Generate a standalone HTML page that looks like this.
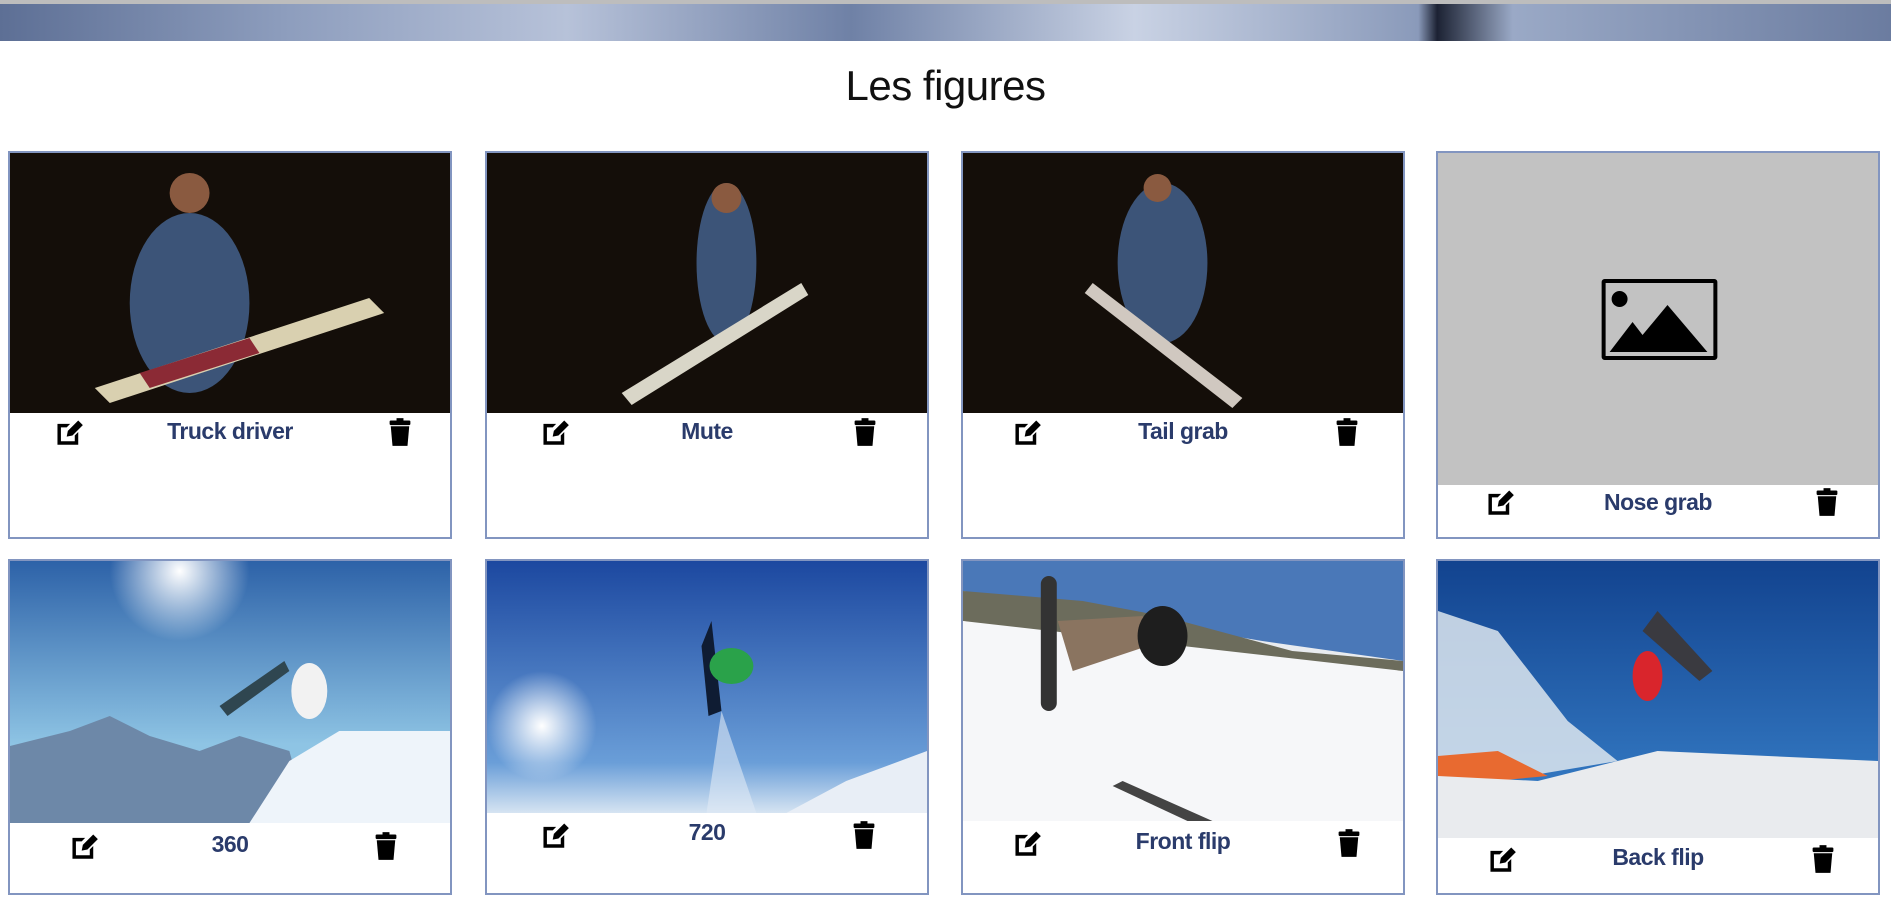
<!DOCTYPE html>
<html><head><meta charset="utf-8">
<style>
html,body{margin:0;padding:0;background:#fff;width:1891px;height:899px;overflow:hidden;position:relative;font-family:"Liberation Sans","DejaVu Sans",sans-serif}
.banner{position:absolute;left:0;top:0;width:1891px;height:41px;background:linear-gradient(90deg,#5d6f95 0%,#8d9dbd 15%,#b7c2d9 30%,#6f81a6 45%,#c9d2e4 60%,#8a9aba 75%,#1c2233 76%,#9aa9c6 80%,#6b7ca0 100%)}
.banner:before{content:"";position:absolute;left:0;top:0;right:0;height:4px;background:#bdbdbd}
.title{position:absolute;left:0;width:1891px;top:62px;text-align:center;font-size:42px;color:#111;letter-spacing:-0.5px}
.card{position:absolute;width:444px;border:2px solid #8295c0;box-sizing:border-box;background:#fff;overflow:hidden}
.img{position:absolute;left:0;top:0;width:100%}
.lbl{position:absolute;left:0;width:100%;text-align:center;font-size:23px;font-weight:bold;color:#2a3b6b;letter-spacing:-0.5px}
.ic{position:absolute;width:30px;height:30px}
</style></head><body>
<div class="banner"></div>
<div class="title">Les figures</div>

<svg width="0" height="0" style="position:absolute">
<defs>
<symbol id="edit" viewBox="0 0 26 26"><path d="M3 6h11l-3 3H6v12h12v-5l3-3v11H3z" fill="#000"/><path d="M11 17l1-5 9-9 4 4-9 9z" fill="#000"/></symbol>
<symbol id="trash" viewBox="0 0 26 26"><rect x="4" y="3" width="18" height="4" rx="1" fill="#000"/><rect x="10" y="1" width="6" height="3" fill="#000"/><path d="M5 8h16l-1.5 17h-13z" fill="#000"/></symbol>
</defs></svg>

<!-- Row 1 -->
<div class="card" style="left:8px;top:151px;height:388px">
 <svg class="img" height="260" viewBox="0 0 441 260" preserveAspectRatio="none"><rect width="441" height="260" fill="#140e09"/><ellipse cx="180" cy="150" rx="60" ry="90" fill="#3c5478"/><circle cx="180" cy="40" r="20" fill="#8a5a40"/><path d="M85 235L360 145L375 160L100 250Z" fill="#d9d0b0"/><path d="M130 220L240 185L250 200L140 235Z" fill="#8b2a35"/></svg>
 <svg class="ic" style="left:44px;top:264px"><use href="#edit"/></svg>
 <div class="lbl" style="top:265px">Truck driver</div>
 <svg class="ic" style="left:375px;top:264px"><use href="#trash"/></svg>
</div>
<div class="card" style="left:485px;top:151px;height:388px">
 <svg class="img" height="260" viewBox="0 0 441 260" preserveAspectRatio="none"><rect width="441" height="260" fill="#140e09"/><ellipse cx="240" cy="110" rx="30" ry="80" fill="#3c5478"/><circle cx="240" cy="45" r="15" fill="#8a5a40"/><path d="M135 240L315 130L322 142L145 252Z" fill="#d9d6c8"/></svg>
 <svg class="ic" style="left:53px;top:264px"><use href="#edit"/></svg>
 <div class="lbl" style="top:265px">Mute</div>
 <svg class="ic" style="left:363px;top:264px"><use href="#trash"/></svg>
</div>
<div class="card" style="left:961px;top:151px;height:388px">
 <svg class="img" height="260" viewBox="0 0 441 260" preserveAspectRatio="none"><rect width="441" height="260" fill="#140e09"/><ellipse cx="200" cy="110" rx="45" ry="80" fill="#3c5478"/><circle cx="195" cy="35" r="14" fill="#8a5a40"/><path d="M130 130L280 245L270 255L122 140Z" fill="#d0c8c0"/></svg>
 <svg class="ic" style="left:49px;top:264px"><use href="#edit"/></svg>
 <div class="lbl" style="top:265px">Tail grab</div>
 <svg class="ic" style="left:369px;top:264px"><use href="#trash"/></svg>
</div>
<div class="card" style="left:1436px;top:151px;height:388px">
 <svg class="img" height="332" viewBox="0 0 441 332" preserveAspectRatio="none"><rect width="441" height="332" fill="#c2c2c2"/><rect x="166" y="128" width="112" height="77" fill="none" stroke="#000" stroke-width="4" rx="1"/><circle cx="182" cy="146" r="8" fill="#000"/><path d="M172 199L195 169L205 182L230 152L270 199Z" fill="#000"/></svg>
 <svg class="ic" style="left:47px;top:334px"><use href="#edit"/></svg>
 <div class="lbl" style="top:336px">Nose grab</div>
 <svg class="ic" style="left:374px;top:334px"><use href="#trash"/></svg>
</div>

<!-- Row 2 -->
<div class="card" style="left:8px;top:559px;height:336px">
 <svg class="img" height="262" viewBox="0 0 441 262" preserveAspectRatio="none"><defs><linearGradient id="s1" x1="0" y1="0" x2="0" y2="1"><stop offset="0" stop-color="#2d62a8"/><stop offset="0.7" stop-color="#8ec4e4"/></linearGradient><radialGradient id="sun1"><stop offset="0" stop-color="#fff"/><stop offset="1" stop-color="#fff" stop-opacity="0"/></radialGradient></defs><rect width="441" height="262" fill="url(#s1)"/><circle cx="170" cy="10" r="70" fill="url(#sun1)"/><path d="M0 185L60 170L100 155L140 175L190 190L230 175L280 190L300 262L0 262Z" fill="#6d88a8"/><path d="M240 262L280 200L330 170L441 170L441 262Z" fill="#eef4fa"/><path d="M210 145L275 100L280 110L218 155Z" fill="#2f4650"/><ellipse cx="300" cy="130" rx="18" ry="28" fill="#f2f2f2"/></svg>
 <svg class="ic" style="left:59px;top:270px"><use href="#edit"/></svg>
 <div class="lbl" style="top:270px">360</div>
 <svg class="ic" style="left:361px;top:270px"><use href="#trash"/></svg>
</div>
<div class="card" style="left:485px;top:559px;height:336px">
 <svg class="img" height="252" viewBox="0 0 441 252" preserveAspectRatio="none"><defs><linearGradient id="s2" x1="0" y1="0" x2="0" y2="1"><stop offset="0" stop-color="#1c48a0"/><stop offset="0.8" stop-color="#6a9ed8"/><stop offset="1" stop-color="#d6e4f2"/></linearGradient><radialGradient id="sun2"><stop offset="0" stop-color="#fff"/><stop offset="1" stop-color="#fff" stop-opacity="0"/></radialGradient></defs><rect width="441" height="252" fill="url(#s2)"/><circle cx="55" cy="165" r="55" fill="url(#sun2)"/><path d="M300 252L360 220L441 190L441 252Z" fill="#e8eef6"/><path d="M215 85L225 60L235 150L222 155Z" fill="#0f1c33"/><ellipse cx="245" cy="105" rx="22" ry="18" fill="#2aa24a"/><path d="M235 150L270 252L220 252Z" fill="#dfe9f5" opacity="0.6"/></svg>
 <svg class="ic" style="left:53px;top:259px"><use href="#edit"/></svg>
 <div class="lbl" style="top:258px">720</div>
 <svg class="ic" style="left:362px;top:259px"><use href="#trash"/></svg>
</div>
<div class="card" style="left:961px;top:559px;height:336px">
 <svg class="img" height="260" viewBox="0 0 441 260" preserveAspectRatio="none"><rect width="441" height="260" fill="#e9ecf0"/><path d="M0 0H441V100L300 80L0 30Z" fill="#4a78b8"/><path d="M0 30L120 40L200 55L330 90L441 100L441 110L300 110L0 60Z" fill="#6c6c5c"/><path d="M0 60L441 110L441 260L0 260Z" fill="#f6f7f9"/><rect x="78" y="15" width="16" height="135" rx="8" fill="#333"/><path d="M95 60L180 55L200 80L110 110Z" fill="#8a7460"/><ellipse cx="200" cy="75" rx="25" ry="30" fill="#1e1e1e"/><path d="M160 220L250 260L225 260L150 225Z" fill="#444"/></svg>
 <svg class="ic" style="left:49px;top:267px"><use href="#edit"/></svg>
 <div class="lbl" style="top:267px">Front flip</div>
 <svg class="ic" style="left:371px;top:267px"><use href="#trash"/></svg>
</div>
<div class="card" style="left:1436px;top:559px;height:336px">
 <svg class="img" height="277" viewBox="0 0 441 277" preserveAspectRatio="none"><defs><linearGradient id="s4" x1="0" y1="0" x2="0" y2="1"><stop offset="0" stop-color="#12438f"/><stop offset="1" stop-color="#3a83cc"/></linearGradient></defs><rect width="441" height="277" fill="url(#s4)"/><path d="M0 50L60 70L130 160L180 200L0 230Z" fill="#dde6ef" opacity="0.85"/><path d="M0 195L60 190L110 215L0 225Z" fill="#e86a30"/><path d="M100 220L220 190L441 200L441 277L0 277L0 215Z" fill="#e9ebee"/><path d="M205 70L220 50L275 110L262 120Z" fill="#3a3a40"/><ellipse cx="210" cy="115" rx="15" ry="25" fill="#d9252c"/></svg>
 <svg class="ic" style="left:49px;top:283px"><use href="#edit"/></svg>
 <div class="lbl" style="top:283px">Back flip</div>
 <svg class="ic" style="left:370px;top:283px"><use href="#trash"/></svg>
</div>
</body></html>
